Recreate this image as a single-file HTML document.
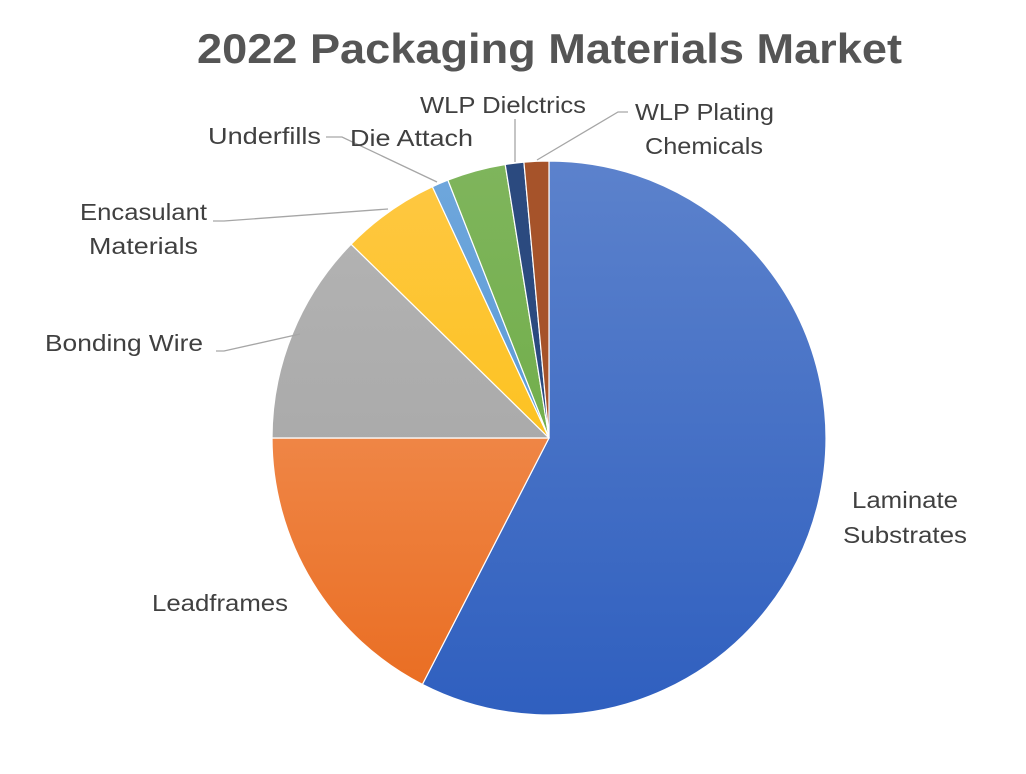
<!DOCTYPE html>
<html><head><style>
body{margin:0;background:#fff;}
svg{display:block;}
text{font-family:"Liberation Sans","DejaVu Sans",sans-serif;fill:#404040;}
</style></head><body>
<svg width="1026" height="774" viewBox="0 0 1026 774">
<defs>
<linearGradient id="gb" gradientUnits="userSpaceOnUse" x1="0" y1="160" x2="0" y2="716"><stop offset="0" stop-color="#5c82cc"/><stop offset="1" stop-color="#2f5fbf"/></linearGradient>
<linearGradient id="go" gradientUnits="userSpaceOnUse" x1="0" y1="160" x2="0" y2="716"><stop offset="0" stop-color="#f5a06c"/><stop offset="1" stop-color="#e96b1f"/></linearGradient>
<linearGradient id="gg" gradientUnits="userSpaceOnUse" x1="0" y1="160" x2="0" y2="716"><stop offset="0" stop-color="#b5b5b5"/><stop offset="1" stop-color="#a0a0a0"/></linearGradient>
<linearGradient id="gy" gradientUnits="userSpaceOnUse" x1="0" y1="160" x2="0" y2="716"><stop offset="0" stop-color="#fec844"/><stop offset="1" stop-color="#fbbd00"/></linearGradient>
<linearGradient id="gl" gradientUnits="userSpaceOnUse" x1="0" y1="160" x2="0" y2="716"><stop offset="0" stop-color="#6fa7dc"/><stop offset="1" stop-color="#4b90d2"/></linearGradient>
<linearGradient id="gn" gradientUnits="userSpaceOnUse" x1="0" y1="160" x2="0" y2="716"><stop offset="0" stop-color="#7fb55c"/><stop offset="1" stop-color="#66a83c"/></linearGradient>
</defs>
<text x="197" y="63" textLength="705" lengthAdjust="spacingAndGlyphs" font-size="42" font-weight="bold" style="fill:#555">2022 Packaging Materials Market</text>
<g stroke="#fff" stroke-width="1.2" stroke-linejoin="round">
<path d="M549,438 L549,161 A277,277 0 1 1 422.4,684.4 Z" fill="url(#gb)"/>
<path d="M549,438 L422.4,684.4 A277,277 0 0 1 272,438 Z" fill="url(#go)"/>
<path d="M549,438 L272,438 A277,277 0 0 1 351.1,244.2 Z" fill="url(#gg)"/>
<path d="M549,438 L351.1,244.2 A277,277 0 0 1 432.4,186.7 Z" fill="url(#gy)"/>
<path d="M549,438 L432.4,186.7 A277,277 0 0 1 447.9,180.1 Z" fill="url(#gl)"/>
<path d="M549,438 L447.9,180.1 A277,277 0 0 1 505.2,164.5 Z" fill="url(#gn)"/>
<path d="M549,438 L505.2,164.5 A277,277 0 0 1 523.9,162.1 Z" fill="#2b4a7f"/>
<path d="M549,438 L523.9,162.1 A277,277 0 0 1 549,161 Z" fill="#a6532a"/>
</g>
<g stroke="#a6a6a6" stroke-width="1.3" fill="none">
<polyline points="326,137 342,137 437,182"/>
<polyline points="213,221 224,221 388,209"/>
<polyline points="216,351 224,351 300,334"/>
<polyline points="515,119 515,162"/>
<polyline points="628,112 618,112 537,160"/>
</g>
<g font-size="23" lengthAdjust="spacingAndGlyphs">
<text x="208" y="144" textLength="113" lengthAdjust="spacingAndGlyphs">Underfills</text>
<text x="350" y="146" textLength="123" lengthAdjust="spacingAndGlyphs">Die Attach</text>
<text x="420" y="113" textLength="166" lengthAdjust="spacingAndGlyphs">WLP Dielctrics</text>
<text x="635" y="120" textLength="139" lengthAdjust="spacingAndGlyphs">WLP Plating</text>
<text x="645" y="154" textLength="118" lengthAdjust="spacingAndGlyphs">Chemicals</text>
<text x="80" y="220" textLength="127" lengthAdjust="spacingAndGlyphs">Encasulant</text>
<text x="89" y="254" textLength="109" lengthAdjust="spacingAndGlyphs">Materials</text>
<text x="45" y="351" textLength="158" lengthAdjust="spacingAndGlyphs">Bonding Wire</text>
<text x="152" y="611" textLength="136" lengthAdjust="spacingAndGlyphs">Leadframes</text>
<text x="852" y="508" textLength="106" lengthAdjust="spacingAndGlyphs">Laminate</text>
<text x="843" y="543" textLength="124" lengthAdjust="spacingAndGlyphs">Substrates</text>
</g>
</svg>
</body></html>
